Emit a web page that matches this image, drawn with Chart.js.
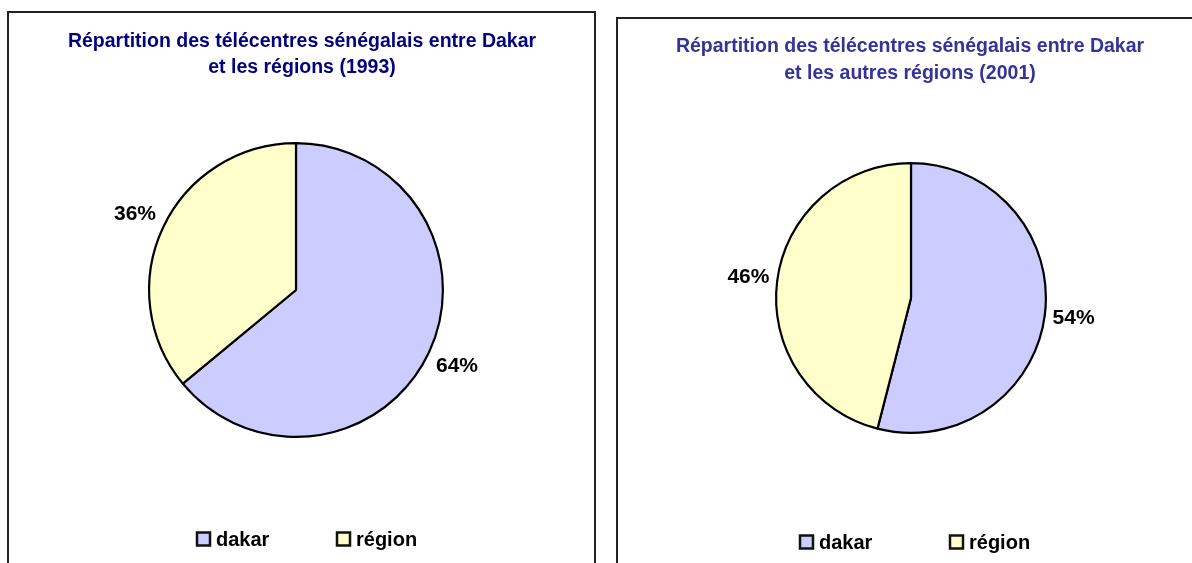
<!DOCTYPE html>
<html>
<head>
<meta charset="utf-8">
<script src="https://cdn.jsdelivr.net/npm/chart.js@4/dist/chart.umd.min.js"></script>
<style>
    html, body { margin: 0; padding: 0; background: #fff; overflow: hidden; }
    body { width: 1192px; height: 563px; position: relative; }
    .panel { position: absolute; border: 2px solid #222; background: #fff; }
    #panel1 { left: 7px; top: 11px; width: 585px; height: 600px; }
    #panel2 { left: 616px; top: 17px; width: 600px; height: 600px; }
    canvas { position: absolute; left: 0; top: 0; }
</style>
</head>
<body>
<div class="panel" id="panel1"></div>
<div class="panel" id="panel2"></div>
<canvas id="chart1993" width="1192" height="563"></canvas>
<canvas id="chart2001" width="1192" height="563"></canvas>
<script>
// Data
const categories = ['dakar', 'région'];
const shares1993 = [64, 36];
const shares2001 = [54, 46];
const title1993 = ['Répartition des télécentres sénégalais entre Dakar', 'et les régions (1993)'];
const title2001 = ['Répartition des télécentres sénégalais entre Dakar', 'et les autres régions (2001)'];
const sliceColors = ['#CCCCFF', '#FFFFCC'];

const FONT = '"Liberation Sans", Arial, sans-serif';

// Titles, percent labels and legend drawn around the pie
const decorPlugin = {
    id: 'decor',
    afterDatasetsDraw(chart, args, opts) {
        const ctx = chart.ctx;
        ctx.save();

        // title
        ctx.fillStyle = opts.titleColor;
        ctx.font = 'bold 19.5px ' + FONT;
        ctx.textAlign = 'center';
        ctx.textBaseline = 'middle';
        opts.title.forEach((line, i) => {
            ctx.fillText(line, opts.titleX, opts.titleY + i * opts.titleGap);
        });

        // percent labels outside the slices
        const meta = chart.getDatasetMeta(0);
        const values = chart.data.datasets[0].data;
        ctx.fillStyle = '#000';
        ctx.font = 'bold 21px ' + FONT;
        meta.data.forEach((arc, i) => {
            const p = arc.getProps(['x', 'y', 'startAngle', 'endAngle', 'outerRadius'], true);
            const mid = (p.startAngle + p.endAngle) / 2;
            const r = p.outerRadius + opts.labelOffset;
            ctx.fillText(values[i] + '%', p.x + Math.cos(mid) * r, p.y + Math.sin(mid) * r);
        });

        // legend
        ctx.font = 'bold 20px ' + FONT;
        ctx.textAlign = 'left';
        chart.data.labels.forEach((label, i) => {
            const x = opts.legendX[i];
            const y = opts.legendY;
            ctx.fillStyle = chart.data.datasets[0].backgroundColor[i];
            ctx.fillRect(x, y - 6.5, 13, 13);
            ctx.lineWidth = 2.5;
            ctx.strokeStyle = '#111';
            ctx.strokeRect(x, y - 6.5, 13, 13);
            ctx.fillStyle = '#000';
            ctx.fillText(label, x + 19, y + 1);
        });

        ctx.restore();
    }
};

function makePie(id, values, padding, decor) {
    return new Chart(document.getElementById(id), {
        type: 'pie',
        data: {
            labels: categories,
            datasets: [{
                data: values,
                backgroundColor: sliceColors,
                borderColor: '#000',
                borderWidth: 2.2
            }]
        },
        options: {
            responsive: false,
            animation: false,
            events: [],
            layout: { padding: padding },
            plugins: {
                legend: { display: false },
                title: { display: false },
                tooltip: { enabled: false },
                decor: decor
            }
        },
        plugins: [decorPlugin]
    });
}

makePie('chart1993', shares1993,
    { left: 148, right: 748, top: 142, bottom: 125 },
    {
        title: title1993, titleColor: '#000080', titleX: 302, titleY: 42, titleGap: 26,
        labelOffset: 31, legendX: [197, 337], legendY: 539
    });

makePie('chart2001', shares2001,
    { left: 775, right: 145, top: 162, bottom: 129 },
    {
        title: title2001, titleColor: '#333399', titleX: 910, titleY: 47, titleGap: 27,
        labelOffset: 29, legendX: [800, 950], legendY: 542
    });
</script>
</body>
</html>
